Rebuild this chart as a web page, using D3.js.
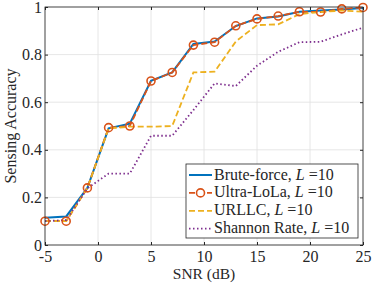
<!DOCTYPE html>
<meta charset="utf-8">
<script src="https://d3js.org/d3.v7.min.js"></script>
<style>
  body { margin: 0; background: #fff; }
</style>
<div id="chart"></div>
<script>
// data
const snr = [-5, -3, -1, 1, 3, 5, 7, 9, 11, 13, 15, 17, 19, 21, 23, 25];
const bruteForce = [0.115, 0.12, 0.24, 0.49, 0.51, 0.69, 0.725, 0.845, 0.855, 0.92, 0.952, 0.96, 0.98, 0.985, 0.99, 0.996];
const ultraLoLa  = [0.1, 0.1, 0.24, 0.493, 0.5, 0.689, 0.725, 0.84, 0.852, 0.921, 0.95, 0.962, 0.98, 0.979, 0.992, 0.998];
const urllc      = [0.1, 0.1, 0.24, 0.49, 0.497, 0.497, 0.5, 0.725, 0.728, 0.855, 0.924, 0.927, 0.97, 0.979, 0.985, 0.98];
const shannon    = [0.1, 0.105, 0.238, 0.3, 0.3, 0.459, 0.459, 0.567, 0.679, 0.668, 0.753, 0.812, 0.852, 0.854, 0.885, 0.913];
const xTicks = [-5, 0, 5, 10, 15, 20, 25];
const yTicks = [0, 0.2, 0.4, 0.6, 0.8, 1];
const seriesNames = ["Brute-force", "Ultra-LoLa", "URLLC", "Shannon Rate"];

const width = 374, height = 283;
const margin = {left: 45, right: 11, top: 7, bottom: 38};
const serif = "'Liberation Serif'";

const svg = d3.select("#chart").append("svg")
  .attr("width", width).attr("height", height);

const x = d3.scaleLinear().domain([-5, 25]).range([margin.left, width - margin.right]);
const y = d3.scaleLinear().domain([0, 1]).range([height - margin.bottom, margin.top]);

// grid
svg.append("g").selectAll("line").data(xTicks).join("line")
  .attr("x1", d => x(d)).attr("x2", d => x(d))
  .attr("y1", y(0)).attr("y2", y(1))
  .attr("stroke", "#dfdfdf").attr("stroke-width", 0.8);
svg.append("g").selectAll("line").data(yTicks).join("line")
  .attr("x1", x(-5)).attr("x2", x(25))
  .attr("y1", d => y(d)).attr("y2", d => y(d))
  .attr("stroke", "#dfdfdf").attr("stroke-width", 0.8);

// axes with inward ticks
const styleText = g => g.selectAll("text")
  .style("font-family", serif).style("font-size", "16px").attr("fill", "#262626");
svg.append("g").attr("transform", `translate(0,${y(0)})`)
  .call(d3.axisBottom(x).tickValues(xTicks).tickSizeInner(-3).tickSizeOuter(0).tickPadding(6).tickFormat(d => String(d)))
  .call(g => g.select(".domain").remove())
  .call(styleText);
svg.append("g").attr("transform", `translate(0,${y(1)})`)
  .call(d3.axisTop(x).tickValues(xTicks).tickSizeInner(-3).tickSizeOuter(0).tickFormat(""))
  .call(g => g.select(".domain").remove());
svg.append("g").attr("transform", `translate(${x(-5)},0)`)
  .call(d3.axisLeft(y).tickValues(yTicks).tickSizeInner(-3).tickSizeOuter(0).tickPadding(3).tickFormat(d => String(d)))
  .call(g => g.select(".domain").remove())
  .call(styleText);
svg.append("g").attr("transform", `translate(${x(25)},0)`)
  .call(d3.axisRight(y).tickValues(yTicks).tickSizeInner(-3).tickSizeOuter(0).tickFormat(""))
  .call(g => g.select(".domain").remove());
svg.selectAll(".tick line").attr("stroke", "#262626");

// lines
const line = d3.line().x((d, i) => x(snr[i])).y(d => y(d));
const styles = [
  {data: bruteForce, color: "#0072BD", dash: null, width: 2},
  {data: ultraLoLa, color: "#D95319", dash: "6,3", width: 1.8},
  {data: urllc, color: "#EDB120", dash: "6,3", width: 1.8},
  {data: shannon, color: "#7E2F8E", dash: "1.5,2.5", width: 1.8}
];
styles.forEach(s => {
  svg.append("path").datum(s.data)
    .attr("d", line).attr("fill", "none")
    .attr("stroke", s.color).attr("stroke-width", s.width)
    .attr("stroke-dasharray", s.dash);
});
svg.append("g").selectAll("circle").data(ultraLoLa).join("circle")
  .attr("cx", (d, i) => x(snr[i])).attr("cy", d => y(d)).attr("r", 4)
  .attr("fill", "none").attr("stroke", "#D95319").attr("stroke-width", 1.6);

// box
svg.append("rect").attr("x", x(-5)).attr("y", y(1))
  .attr("width", x(25) - x(-5)).attr("height", y(0) - y(1))
  .attr("fill", "none").attr("stroke", "#262626").attr("stroke-width", 0.8);

// axis labels
svg.append("text").attr("x", x(10)).attr("y", 278.5).attr("text-anchor", "middle")
  .style("font-family", serif).style("font-size", "15.5px").attr("fill", "#262626").text("SNR (dB)");
svg.append("text").attr("transform", `translate(16,${y(0.5)}) rotate(-90)`)
  .attr("text-anchor", "middle")
  .style("font-family", serif).style("font-size", "16px").attr("fill", "#262626").text("Sensing Accuracy");

// legend
const lg = svg.append("g");
lg.append("rect").attr("x", 186).attr("y", 164).attr("width", 172).attr("height", 74)
  .attr("fill", "#fff").attr("stroke", "#262626").attr("stroke-width", 0.8);
styles.forEach((s, i) => {
  const ly = 175 + i * 17.9;
  lg.append("line").attr("x1", 189).attr("x2", 212).attr("y1", ly).attr("y2", ly)
    .attr("stroke", s.color).attr("stroke-width", s.width)
    .attr("stroke-dasharray", s.dash);
  if (i === 1) lg.append("circle").attr("cx", 200.5).attr("cy", ly).attr("r", 4)
    .attr("fill", "#fff").attr("stroke", s.color).attr("stroke-width", 1.6);
  const t = lg.append("text").attr("x", 214).attr("y", ly + 4.5)
    .style("font-family", serif).style("font-size", "16px").attr("fill", "#262626");
  t.append("tspan").text(seriesNames[i] + ", ");
  t.append("tspan").attr("font-style", "italic").text("L");
  t.append("tspan").text(" =10");
});
</script>
